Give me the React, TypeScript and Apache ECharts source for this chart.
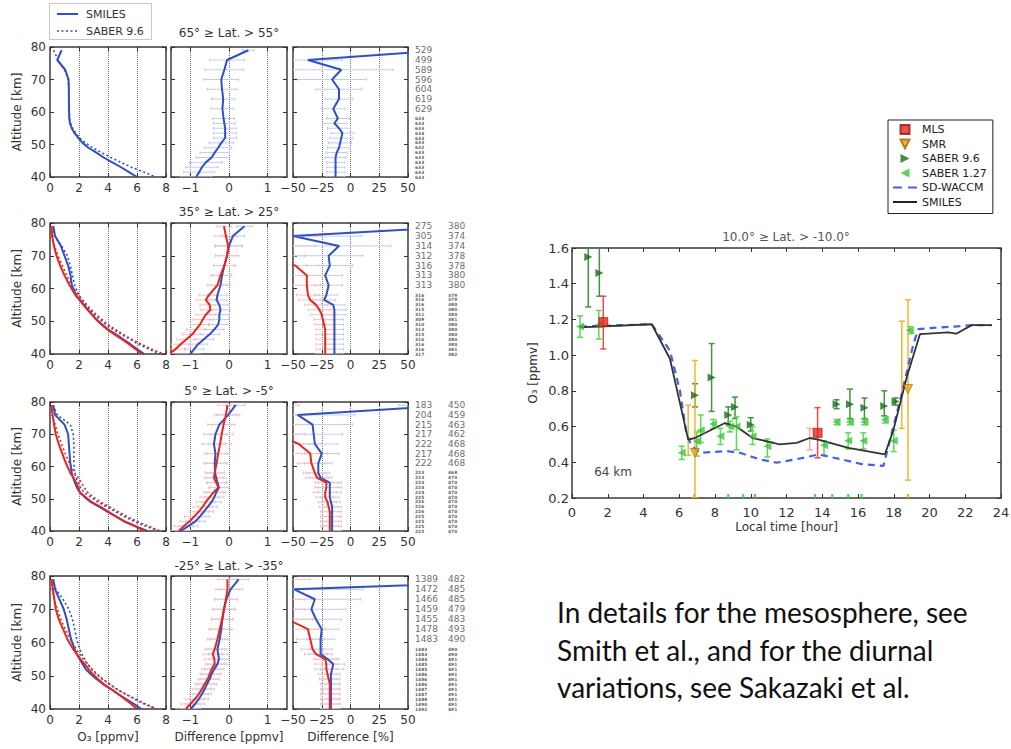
import React, { useEffect, useRef } from 'react';
import * as echarts from 'echarts';

// ---------------- data ----------------
const ALT = [79, 76, 73, 70, 67, 64, 61, 58, 56.5, 55, 53.5, 52, 50.5, 49, 47.5, 46, 44.5, 43, 41.5, 40];
const LAT_TITLES = ['65° ≥ Lat. > 55°', '35° ≥ Lat. > 25°', '5° ≥ Lat. > -5°', '-25° ≥ Lat. > -35°'];
const X_NAMES = ['O₃ [ppmv]', 'Difference [ppmv]', 'Difference [%]'];

// row 1 (65 >= lat > 55)
const r1O3SmilesB = [0.8, 0.5, 1.05, 1.28, 1.3, 1.3, 1.31, 1.33, 1.38, 1.5, 1.7, 1.95, 2.25, 2.65, 3.2, 3.7, 4.3, 4.9, 5.45, 6.0];
const r1O3SaberB = [0.25, 0.55, 1.0, 1.25, 1.3, 1.3, 1.32, 1.35, 1.42, 1.55, 1.78, 2.05, 2.45, 2.95, 3.55, 4.2, 4.9, 5.6, 6.5, 7.3];
const r1DiffB = [0.5, -0.05, -0.12, -0.2, -0.18, -0.15, -0.17, -0.14, -0.12, -0.1, -0.1, -0.1, -0.2, -0.28, -0.37, -0.45, -0.6, -0.7, -0.77, -0.85];
const r1PctB = [82, -37, -8, -16, -10, -10, -15, -11, -14, -10, -7, -8, -9, -10, -12, -13, -13, -13, -13, -13];
const r1ErrPpm = [0.15, 0.45, 0.5, 0.45, 0.38, 0.3, 0.3, 0.28, 0.28, 0.3, 0.3, 0.3, 0.32, 0.35, 0.38, 0.4, 0.42, 0.42, 0.4, 0.4];
const r1ErrPct = [10, 30, 45, 30, 20, 12, 10, 10, 10, 10, 10, 10, 10, 10, 9, 9, 8, 8, 8, 8];
const r1CountsA = [529, 499, 589, 596, 604, 619, 629, 633, 633, 633, 634, 633, 633, 632, 633, 633, 633, 633, 633, 633];

// row 2 (35 >= lat > 25)
const r2O3SmilesB = [0.23, 0.35, 0.75, 1.0, 1.25, 1.42, 1.5, 1.8, 2.05, 2.35, 2.6, 2.9, 3.2, 3.6, 4.0, 4.55, 5.05, 5.55, 6.0, 6.5];
const r2O3SaberB = [0.2, 0.3, 0.8, 1.2, 1.4, 1.55, 1.7, 2.0, 2.2, 2.45, 2.75, 3.05, 3.45, 3.85, 4.35, 4.9, 5.5, 6.1, 6.8, 7.6];
const r2O3SmilesR = [0.1, 0.15, 0.27, 0.45, 0.7, 1.0, 1.35, 1.75, 2.05, 2.3, 2.6, 2.9, 3.2, 3.55, 3.95, 4.45, 4.95, 5.45, 5.9, 6.3];
const r2O3SaberR = [0.1, 0.12, 0.3, 0.55, 0.85, 1.15, 1.5, 1.95, 2.25, 2.55, 2.85, 3.2, 3.6, 4.0, 4.5, 5.05, 5.65, 6.3, 7.0, 7.85];
const r2DiffB = [0.4, 0.1, 0.0, -0.05, -0.12, -0.18, -0.22, -0.3, -0.32, -0.25, -0.22, -0.25, -0.25, -0.28, -0.38, -0.5, -0.65, -0.8, -0.9, -1.0];
const r2DiffR = [-0.13, -0.08, -0.02, -0.05, -0.12, -0.22, -0.3, -0.52, -0.6, -0.5, -0.48, -0.6, -0.68, -0.75, -0.85, -0.95, -1.1, -1.25, -1.38, -1.55];
const r2PctB = [100, -50, -10, -19, -18, -22, -19, -21, -23, -15, -14, -14, -14, -14, -14, -14, -14, -14, -14, -14];
const r2PctR = [-90, -85, -75, -70, -48, -38, -38, -37, -35, -30, -27, -25, -24, -23, -22, -22, -22, -22, -22, -22];
const r2ErrPpm = [0.2, 0.3, 0.35, 0.3, 0.28, 0.25, 0.25, 0.25, 0.25, 0.25, 0.25, 0.25, 0.25, 0.25, 0.25, 0.25, 0.25, 0.25, 0.25, 0.25];
const r2ErrPct = [40, 60, 45, 30, 20, 15, 12, 10, 10, 10, 10, 10, 8, 8, 8, 8, 8, 8, 8, 8];
const r2CountsA = [275, 305, 314, 312, 316, 313, 313, 316, 316, 316, 315, 311, 309, 310, 313, 315, 316, 316, 316, 317];
const r2CountsB = [380, 374, 374, 378, 378, 380, 380, 379, 379, 380, 380, 380, 381, 380, 380, 380, 380, 380, 381, 382];

// row 3 (5 >= lat > -5)
const r3O3SmilesB = [0.23, 0.35, 1.0, 1.25, 1.3, 1.35, 1.4, 1.5, 1.6, 1.72, 1.85, 2.05, 2.4, 2.8, 3.4, 3.95, 4.55, 5.15, 5.9, 6.7];
const r3O3SaberB = [0.2, 0.5, 1.4, 1.6, 1.65, 1.65, 1.65, 1.7, 1.8, 1.95, 2.1, 2.35, 2.8, 3.3, 3.9, 4.5, 5.1, 5.8, 6.6, 7.5];
const r3O3SmilesR = [0.1, 0.18, 0.28, 0.4, 0.6, 0.85, 1.1, 1.4, 1.62, 1.8, 1.95, 2.05, 2.45, 2.85, 3.5, 4.0, 4.55, 5.1, 5.85, 6.57];
const r3O3SaberR = [0.1, 0.15, 0.35, 0.55, 0.8, 1.05, 1.35, 1.7, 1.95, 2.15, 2.35, 2.6, 3.0, 3.5, 4.1, 4.7, 5.3, 6.0, 6.8, 7.6];
const r3DiffB = [0.17, -0.02, -0.25, -0.35, -0.39, -0.35, -0.37, -0.36, -0.33, -0.3, -0.26, -0.33, -0.38, -0.45, -0.55, -0.65, -0.75, -0.87, -1.05, -1.25];
const r3DiffR = [-0.04, -0.08, -0.14, -0.19, -0.23, -0.28, -0.32, -0.37, -0.39, -0.33, -0.27, -0.4, -0.5, -0.6, -0.68, -0.78, -0.9, -1.02, -1.17, -1.3];
const r3PctB = [92, -46, -33, -32, -31, -25, -28, -28, -26, -18, -18, -18, -18, -17, -16, -16, -16, -16, -16, -16];
const r3PctR = [-95, -90, -80, -65, -45, -35, -34, -31, -29, -21, -21, -22, -22, -20, -19, -18, -18, -18, -18, -18];
const r3ErrPpm = [0.25, 0.3, 0.3, 0.3, 0.3, 0.28, 0.28, 0.25, 0.25, 0.25, 0.25, 0.25, 0.25, 0.25, 0.25, 0.25, 0.25, 0.25, 0.25, 0.25];
const r3ErrPct = [50, 50, 35, 25, 20, 15, 12, 10, 10, 10, 10, 10, 8, 8, 8, 8, 8, 8, 8, 8];
const r3CountsA = [183, 204, 215, 217, 222, 217, 222, 223, 223, 223, 224, 224, 225, 226, 226, 226, 225, 225, 225, 225];
const r3CountsB = [450, 459, 463, 462, 468, 468, 468, 468, 470, 470, 470, 470, 470, 470, 470, 470, 470, 470, 470, 470];

// row 4 (-25 >= lat > -35)
const r4O3SmilesB = [0.23, 0.35, 0.65, 0.95, 1.15, 1.3, 1.45, 1.7, 1.85, 2.05, 2.25, 2.45, 2.8, 3.2, 3.65, 4.2, 4.7, 5.25, 5.8, 6.3];
const r4O3SaberB = [0.2, 0.4, 0.9, 1.3, 1.55, 1.7, 1.85, 2.05, 2.2, 2.4, 2.6, 2.85, 3.2, 3.6, 4.1, 4.6, 5.2, 5.9, 6.6, 7.4];
const r4O3SmilesR = [0.1, 0.2, 0.3, 0.4, 0.6, 0.9, 1.2, 1.6, 1.85, 2.1, 2.4, 2.65, 2.95, 3.3, 3.7, 4.2, 4.7, 5.15, 5.6, 6.0];
const r4O3SaberR = [0.1, 0.15, 0.3, 0.5, 0.75, 1.05, 1.4, 1.8, 2.05, 2.3, 2.6, 2.9, 3.25, 3.65, 4.1, 4.6, 5.2, 5.8, 6.5, 7.3];
const r4DiffB = [0.25, 0.04, -0.07, -0.13, -0.17, -0.2, -0.24, -0.3, -0.28, -0.26, -0.3, -0.38, -0.45, -0.5, -0.57, -0.63, -0.7, -0.78, -0.88, -0.99];
const r4DiffR = [-0.04, -0.04, -0.08, -0.13, -0.18, -0.24, -0.3, -0.37, -0.42, -0.38, -0.37, -0.45, -0.5, -0.55, -0.63, -0.7, -0.78, -0.88, -1.0, -1.12];
const r4PctB = [200, -49, -31, -34, -30, -25, -26, -26, -26, -20, -15, -16, -17, -17, -17, -17, -17, -17, -17, -17];
const r4PctR = [-95, -90, -80, -70, -55, -37, -35, -33, -30, -22, -21, -21, -20, -19, -18, -18, -18, -18, -18, -18];
const r4ErrPpm = [0.25, 0.3, 0.3, 0.3, 0.28, 0.28, 0.26, 0.25, 0.25, 0.25, 0.25, 0.25, 0.25, 0.25, 0.25, 0.25, 0.25, 0.25, 0.25, 0.25];
const r4ErrPct = [60, 60, 40, 30, 22, 15, 12, 10, 10, 10, 10, 10, 8, 8, 8, 8, 8, 8, 8, 8];
const r4CountsA = [1389, 1472, 1466, 1459, 1455, 1478, 1483, 1483, 1483, 1484, 1485, 1485, 1486, 1486, 1486, 1487, 1487, 1488, 1490, 1492];
const r4CountsB = [482, 485, 485, 479, 483, 493, 490, 490, 490, 491, 491, 491, 491, 491, 491, 491, 491, 491, 491, 491];

// diurnal panel (64 km, 10 >= lat > -10)
const DIURNAL_TITLE = '10.0° ≥ Lat. > -10.0°';
const smilesHour = [0.45, 4.46, 5.48, 6.5, 6.88, 8.56, 9.2, 10.1, 11.3, 11.6, 12.57, 13.3, 13.78, 15.46, 17.5, 17.98, 18.73, 19.47, 21.05, 21.5, 22.36, 23.48];
const smilesVal = [1.155, 1.173, 0.98, 0.527, 0.536, 0.62, 0.6, 0.536, 0.508, 0.5, 0.509, 0.536, 0.527, 0.481, 0.444, 0.58, 0.878, 1.118, 1.127, 1.12, 1.168, 1.168];
const waccmHour = [0.45, 4.46, 5.48, 6.04, 6.4, 6.7, 7.16, 8.65, 9.4, 10.5, 11.45, 12.5, 13.4, 13.78, 15.09, 16.2, 17.42, 17.5, 18.45, 19.1, 19.38, 20.5, 21.4, 22.36, 23.48];
const waccmVal = [1.16, 1.173, 1.025, 0.8, 0.56, 0.49, 0.453, 0.463, 0.453, 0.416, 0.398, 0.416, 0.435, 0.444, 0.416, 0.39, 0.38, 0.41, 0.786, 1.063, 1.146, 1.155, 1.16, 1.168, 1.168];
const mlsHour = [1.75, 13.74];
const mlsVal = [1.185, 0.565];
const mlsLo = [1.035, 0.425];
const mlsHi = [1.33, 0.706];
const mlsFaintHour = [13.3];
const mlsFaintLo = [0.47];
const mlsFaintHi = [0.59];
const smrHour = [6.88, 18.8];
const smrVal = [0.453, 0.81];
const smrLo = [0.2, 0.3];
const smrHi = [0.97, 1.31];
const smrBarHour = [6.5, 18.45];
const smrBarLo = [0.44, 0.59];
const smrBarHi = [0.72, 1.19];
const saber96Hour = [0.91, 1.53, 6.88, 7.81, 8.74, 9.12, 10.0, 14.8, 15.55, 16.36, 17.47, 18.1];
const saber96Val = [1.55, 1.46, 0.775, 0.875, 0.665, 0.71, 0.61, 0.725, 0.725, 0.705, 0.715, 0.74];
const saber96Lo = [1.27, 1.33, 0.71, 0.685, 0.61, 0.645, 0.575, 0.7, 0.645, 0.645, 0.66, 0.72];
const saber96Hi = [1.85, 1.65, 0.84, 1.065, 0.71, 0.765, 0.65, 0.75, 0.81, 0.76, 0.8, 0.76];
const saber127Hour = [0.45, 1.5, 6.14, 6.98, 7.2, 7.9, 8.3, 8.84, 9.2, 10.1, 10.93, 14.1, 14.8, 15.45, 15.55, 16.3, 16.36, 17.5, 18.0, 18.9];
const saber127Val = [1.16, 1.17, 0.453, 0.518, 0.58, 0.615, 0.546, 0.6, 0.6, 0.546, 0.49, 0.495, 0.625, 0.52, 0.625, 0.52, 0.625, 0.638, 0.52, 1.14];
const saber127Lo = [1.1, 1.09, 0.416, 0.435, 0.51, 0.59, 0.5, 0.57, 0.47, 0.5, 0.43, 0.44, 0.61, 0.475, 0.61, 0.475, 0.61, 0.62, 0.46, 1.12];
const saber127Hi = [1.22, 1.25, 0.49, 0.57, 0.665, 0.64, 0.59, 0.63, 0.656, 0.6, 0.53, 0.52, 0.64, 0.565, 0.64, 0.565, 0.64, 0.655, 0.58, 1.16];
const rugGreenHour = [8.74, 9.58, 10.24, 13.6, 14.56, 15.45, 16.2];
const rugOrangeHour = [6.84, 18.8];
const ALT_LABEL = '64 km';

const PARAGRAPH = [
  'In details for the mesosphere, see',
  'Smith et al., and for the diurnal',
  'variations, see Sakazaki et al.',
];

// ---------------- styling / layout ----------------
const FONT = 'DejaVu Sans';
const BLUE = '#2f4fc4';
const RED = '#e8261e';
const BLUE_FAINT = '#c2cbf0';
const RED_FAINT = '#f6c2c2';
const INK = '#333';

const ROW_LAYOUT = [
  { top: 47, height: 130, titleY: 33 },
  { top: 223, height: 131, titleY: 212 },
  { top: 402, height: 129, titleY: 391 },
  { top: 576, height: 133, titleY: 566 },
];
const COL_LAYOUT = [
  { left: 50, width: 116 },
  { left: 171, width: 116 },
  { left: 293, width: 115 },
];
const COUNT_BIG_FROM_ALT = 61; // labels at/above this altitude are legible; below they crowd together

type Line = { v: number[]; c: string; dotted?: boolean };
const PROFILE_ROWS: { o3: Line[]; diff: Line[]; pct: Line[]; errPpm: number[]; errPct: number[]; counts: number[][] }[] = [
  {
    o3: [{ v: r1O3SmilesB, c: BLUE }, { v: r1O3SaberB, c: BLUE, dotted: true }],
    diff: [{ v: r1DiffB, c: BLUE }],
    pct: [{ v: r1PctB, c: BLUE }],
    errPpm: r1ErrPpm, errPct: r1ErrPct, counts: [r1CountsA],
  },
  {
    o3: [{ v: r2O3SaberB, c: BLUE, dotted: true }, { v: r2O3SaberR, c: RED, dotted: true }, { v: r2O3SmilesB, c: BLUE }, { v: r2O3SmilesR, c: RED }],
    diff: [{ v: r2DiffB, c: BLUE }, { v: r2DiffR, c: RED }],
    pct: [{ v: r2PctB, c: BLUE }, { v: r2PctR, c: RED }],
    errPpm: r2ErrPpm, errPct: r2ErrPct, counts: [r2CountsA, r2CountsB],
  },
  {
    o3: [{ v: r3O3SaberB, c: BLUE, dotted: true }, { v: r3O3SaberR, c: RED, dotted: true }, { v: r3O3SmilesB, c: BLUE }, { v: r3O3SmilesR, c: RED }],
    diff: [{ v: r3DiffB, c: BLUE }, { v: r3DiffR, c: RED }],
    pct: [{ v: r3PctB, c: BLUE }, { v: r3PctR, c: RED }],
    errPpm: r3ErrPpm, errPct: r3ErrPct, counts: [r3CountsA, r3CountsB],
  },
  {
    o3: [{ v: r4O3SaberB, c: BLUE, dotted: true }, { v: r4O3SaberR, c: RED, dotted: true }, { v: r4O3SmilesB, c: BLUE }, { v: r4O3SmilesR, c: RED }],
    diff: [{ v: r4DiffB, c: BLUE }, { v: r4DiffR, c: RED }],
    pct: [{ v: r4PctB, c: BLUE }, { v: r4PctR, c: RED }],
    errPpm: r4ErrPpm, errPct: r4ErrPct, counts: [r4CountsA, r4CountsB],
  },
];

const minus = (v: number) => String(v).replace('-', '\u2212');

const hbar = (color: string) => (_p: any, api: any) => {
  const y = api.value(2);
  const a = api.coord([api.value(0), y]);
  const b = api.coord([api.value(1), y]);
  return {
    type: 'group',
    children: [
      { type: 'line', shape: { x1: a[0], y1: a[1], x2: b[0], y2: b[1] }, style: { stroke: color, lineWidth: 1 } },
      { type: 'line', shape: { x1: a[0], y1: a[1] - 1.5, x2: a[0], y2: a[1] + 1.5 }, style: { stroke: color, lineWidth: 1 } },
      { type: 'line', shape: { x1: b[0], y1: b[1] - 1.5, x2: b[0], y2: b[1] + 1.5 }, style: { stroke: color, lineWidth: 1 } },
    ],
  };
};

const vbar = (color: string, width = 1.5, cap = 3) => (_p: any, api: any) => {
  const x = api.value(0);
  const t = api.coord([x, api.value(2)]);
  const b = api.coord([x, api.value(1)]);
  const st = { stroke: color, lineWidth: width };
  return {
    type: 'group',
    children: [
      { type: 'line', shape: { x1: t[0], y1: t[1], x2: b[0], y2: b[1] }, style: st },
      { type: 'line', shape: { x1: t[0] - cap, y1: t[1], x2: t[0] + cap, y2: t[1] }, style: st },
      { type: 'line', shape: { x1: b[0] - cap, y1: b[1], x2: b[0] + cap, y2: b[1] }, style: st },
    ],
  };
};

const rug = (color: string) => (_p: any, api: any) => {
  const p = api.coord([api.value(0), api.value(1)]);
  return { type: 'line', shape: { x1: p[0], y1: p[1], x2: p[0], y2: p[1] - 4 }, style: { stroke: color, lineWidth: 2 } };
};

function buildOption() {
  const grid: any[] = [];
  const xAxis: any[] = [];
  const yAxis: any[] = [];
  const mirrorX: any[] = [];
  const mirrorY: any[] = [];
  const series: any[] = [];
  const graphic: any[] = [];

  const tick = { show: true, inside: true, length: 4, lineStyle: { color: INK, width: 1 } };
  const labelStyle = { fontFamily: FONT, fontSize: 12, color: INK };

  const addMirror = (gi: number, xs: any, ys: any) => {
    mirrorX.push({
      gridIndex: gi, type: 'value', position: 'top', ...xs,
      axisLine: { show: false, onZero: false }, axisTick: tick, axisLabel: { show: false }, splitLine: { show: false },
    });
    mirrorY.push({
      gridIndex: gi, type: 'value', position: 'right', ...ys,
      axisLine: { show: false, onZero: false }, axisTick: tick, axisLabel: { show: false }, splitLine: { show: false },
    });
  };

  const X_SCALES = [
    { min: 0, max: 8, interval: 2 },
    { min: -1.5, max: 1.5, splitNumber: 3 },
    { min: -50, max: 50, interval: 25 },
  ];
  const Y_SCALE = { min: 40, max: 80, interval: 10 };

  PROFILE_ROWS.forEach((row, r) => {
    const rl = ROW_LAYOUT[r];
    const panels = [
      { lines: row.o3, err: null as number[] | null },
      { lines: row.diff, err: row.errPpm },
      { lines: row.pct, err: row.errPct },
    ];
    panels.forEach((p, c) => {
      const cl = COL_LAYOUT[c];
      const gi = grid.length;
      grid.push({
        left: cl.left, top: rl.top, width: cl.width, height: rl.height,
        show: true, borderColor: '#3a3a3a', borderWidth: 1.5, backgroundColor: 'transparent',
        containLabel: false, outerBoundsMode: 'none',
      });
      xAxis.push({
        gridIndex: gi, type: 'value', position: 'bottom', ...X_SCALES[c],
        axisLine: { show: false, onZero: false },
        axisTick: tick,
        axisLabel: {
          show: true, margin: 5, ...labelStyle, formatter: minus,
          showMinLabel: c === 1 ? false : undefined, showMaxLabel: c === 1 ? false : undefined,
        },
        splitLine: { show: true, lineStyle: { color: '#777', type: 'dotted', width: 1 } },
        name: r === 3 ? X_NAMES[c] : '',
        nameLocation: 'middle', nameGap: 22,
        nameTextStyle: { ...labelStyle },
      });
      yAxis.push({
        gridIndex: gi, type: 'value', position: 'left', ...Y_SCALE,
        axisLine: { show: false, onZero: false },
        axisTick: tick,
        axisLabel: { show: c === 0, margin: 4, ...labelStyle },
        splitLine: { show: false },
        name: c === 0 ? 'Altitude [km]' : '',
        nameLocation: 'middle', nameGap: 27,
        nameTextStyle: { ...labelStyle },
      });
      addMirror(gi, X_SCALES[c], Y_SCALE);

      if (p.err) {
        p.lines.forEach((ln, k) => {
          series.push({
            type: 'custom', name: `err-${r}-${c}-${k}`, xAxisIndex: gi, yAxisIndex: gi,
            clip: true, z: 1,
            encode: { x: [0, 1], y: 2 },
            renderItem: hbar(ln.c === RED ? RED_FAINT : BLUE_FAINT),
            data: ALT.map((a, i) => [ln.v[i] - p.err![i], ln.v[i] + p.err![i], a]),
          });
        });
      }
      p.lines.forEach((ln, k) => {
        series.push({
          type: 'line', name: `prof-${r}-${c}-${k}`, xAxisIndex: gi, yAxisIndex: gi,
          symbol: 'none', clip: true, z: 3,
          lineStyle: { color: ln.c, width: ln.dotted ? 1.6 : 2, type: ln.dotted ? [2, 2.5] : 'solid' },
          data: ALT.map((a, i) => [ln.v[i], a]),
        });
      });
    });

    graphic.push({
      type: 'text', x: 229, y: rl.titleY,
      style: { text: LAT_TITLES[r], font: `12px "${FONT}"`, fill: INK, align: 'center', verticalAlign: 'middle' },
    });
  });

  // ---- diurnal panel ----
  const dg = grid.length;
  grid.push({
    left: 572, top: 248, width: 429, height: 250, show: true, borderColor: '#3a3a3a', borderWidth: 1.5,
    backgroundColor: 'transparent', containLabel: false, outerBoundsMode: 'none',
  });
  const DX = { min: 0, max: 24, interval: 2 };
  const DY = { min: 0.2, max: 1.6, interval: 0.2 };
  xAxis.push({
    gridIndex: dg, type: 'value', position: 'bottom', ...DX,
    axisLine: { show: false, onZero: false }, axisTick: tick,
    axisLabel: { margin: 8, fontFamily: FONT, fontSize: 13, color: INK },
    splitLine: { show: false },
    name: 'Local time [hour]', nameLocation: 'middle', nameGap: 23,
    nameTextStyle: { fontFamily: FONT, fontSize: 12, color: INK },
  });
  yAxis.push({
    gridIndex: dg, type: 'value', position: 'left', ...DY,
    axisLine: { show: false, onZero: false }, axisTick: tick,
    axisLabel: { margin: 3, fontFamily: FONT, fontSize: 13, color: INK, formatter: (v: number) => v.toFixed(1) },
    splitLine: { show: false },
    name: 'O₃ [ppmv]', nameLocation: 'middle', nameGap: 33,
    nameTextStyle: { fontFamily: FONT, fontSize: 12, color: INK },
  });
  addMirror(dg, DX, DY);

  const bars = (name: string, h: number[], lo: number[], hi: number[], color: string, width = 1.5) => ({
    type: 'custom', name, xAxisIndex: dg, yAxisIndex: dg, clip: true, z: 2,
    encode: { x: 0, y: [1, 2] },
    renderItem: vbar(color, width),
    data: h.map((x, i) => [x, lo[i], hi[i]]),
  });
  series.push(bars('mls-faint-bars', mlsFaintHour, mlsFaintLo, mlsFaintHi, '#f6a6a6'));
  series.push(bars('saber96-bars', saber96Hour, saber96Lo, saber96Hi, '#3f963f'));
  series.push(bars('saber127-bars', saber127Hour, saber127Lo, saber127Hi, '#55dd55'));
  series.push(bars('mls-bars', mlsHour, mlsLo, mlsHi, '#ee4a4a'));
  series.push({
    type: 'line', name: 'SD-WACCM', xAxisIndex: dg, yAxisIndex: dg, symbol: 'none', clip: true, z: 3,
    lineStyle: { color: '#4d5ee6', width: 2.2, type: [7, 5] }, itemStyle: { color: '#4d5ee6' },
    data: waccmHour.map((x, i) => [x, waccmVal[i]]),
  });
  series.push({
    type: 'line', name: 'SMILES', xAxisIndex: dg, yAxisIndex: dg, symbol: 'none', clip: true, z: 4,
    lineStyle: { color: '#333', width: 1.8 }, itemStyle: { color: '#222' },
    data: smilesHour.map((x, i) => [x, smilesVal[i]]),
  });
  series.push(bars('smr-bars-2', smrBarHour, smrBarLo, smrBarHi, '#f5b52a'));
  series.push(bars('smr-bars', smrHour, smrLo, smrHi, '#f5b52a'));
  series.push({
    type: 'custom', name: 'rug-green', xAxisIndex: dg, yAxisIndex: dg, z: 5, encode: { x: 0, y: 1 },
    renderItem: rug('#2ee62e'), data: rugGreenHour.map((x) => [x, DY.min]),
  });
  series.push({
    type: 'custom', name: 'rug-orange', xAxisIndex: dg, yAxisIndex: dg, z: 5, encode: { x: 0, y: 1 },
    renderItem: rug('#f5a800'), data: rugOrangeHour.map((x) => [x, DY.min]),
  });
  const SQ = 'path://M0,0H10V10H0Z';
  const TDOWN = 'path://M0,0L10,0L5,10Z';
  const TRIGHT = 'path://M0,0L10,5L0,10Z';
  const TLEFT = 'path://M10,0L0,5L10,10Z';
  const LINE_ICON = 'path://M0,0H24V2H0Z';
  const DASH_ICON = 'path://M0,0H9V2H0Z M15,0H24V2H15Z';
  series.push({
    type: 'scatter', name: 'SABER 1.27', xAxisIndex: dg, yAxisIndex: dg, z: 6, symbol: TLEFT, symbolSize: 8,
    symbolKeepAspect: true, itemStyle: { color: '#3cc43c' },
    data: saber127Hour.map((x, i) => [x, saber127Val[i]]),
  });
  series.push({
    type: 'scatter', name: 'SABER 9.6', xAxisIndex: dg, yAxisIndex: dg, z: 6, symbol: TRIGHT, symbolSize: 8,
    symbolKeepAspect: true, itemStyle: { color: '#1d6b1d' },
    data: saber96Hour.map((x, i) => [x, saber96Val[i]]),
  });
  series.push({
    type: 'scatter', name: 'SMR', xAxisIndex: dg, yAxisIndex: dg, z: 7, symbol: TDOWN, symbolSize: 9,
    symbolKeepAspect: true, itemStyle: { color: '#eea21c', borderColor: '#a06a00', borderWidth: 0.8 },
    data: smrHour.map((x, i) => [x, smrVal[i]]),
  });
  series.push({
    type: 'scatter', name: 'MLS', xAxisIndex: dg, yAxisIndex: dg, z: 7, symbol: SQ, symbolSize: 9,
    symbolKeepAspect: true, itemStyle: { color: '#e8261e', borderColor: '#9a1010', borderWidth: 0.8 },
    data: mlsHour.map((x, i) => [x, mlsVal[i]]),
  });

  graphic.push({
    type: 'text', x: 786, y: 237,
    style: { text: DIURNAL_TITLE, font: `12px "${FONT}"`, fill: '#555', align: 'center', verticalAlign: 'middle' },
  });
  graphic.push({
    type: 'text', x: 613, y: 472,
    style: { text: ALT_LABEL, font: `12px "${FONT}"`, fill: '#444', align: 'center', verticalAlign: 'middle' },
  });

  // ---- count columns ----
  PROFILE_ROWS.forEach((row, r) => {
    const rl = ROW_LAYOUT[r];
    const gi = grid.length;
    grid.push({ left: 415, top: rl.top, width: 33, height: rl.height, show: false, containLabel: false, outerBoundsMode: 'none' });
    xAxis.push({ gridIndex: gi, type: 'value', min: 0, max: 1, show: false });
    yAxis.push({ gridIndex: gi, type: 'value', min: 40, max: 80, show: false });
    const data: any[] = [];
    row.counts.forEach((col, k) =>
      col.forEach((n, i) => {
        const big = ALT[i] >= COUNT_BIG_FROM_ALT;
        data.push({
          value: [k, ALT[i], n],
          label: big ? { fontSize: 9 } : { fontSize: 4.4, fontWeight: 'bold', color: '#333' },
        });
      }),
    );
    series.push({
      type: 'scatter', name: `counts-${r}`, xAxisIndex: gi, yAxisIndex: gi, symbol: 'circle', symbolSize: 0.1,
      itemStyle: { color: 'transparent' }, silent: true, clip: false,
      label: {
        show: true, position: 'right', distance: 0, formatter: (p: any) => String(p.value[2]),
        fontFamily: FONT, fontSize: 9, color: '#444', align: 'left', verticalAlign: 'middle', lineHeight: 4.4,
      },
      labelLayout: { hideOverlap: false },
      data,
    });
  });

  // ---- left legend (profiles) ----
  graphic.push({
    type: 'group', children: [
      { type: 'rect', shape: { x: 49.5, y: 3.5, width: 102, height: 36 }, style: { fill: '#fff', stroke: '#c8c8c8', lineWidth: 1 } },
      { type: 'line', shape: { x1: 57, y1: 14, x2: 78, y2: 14 }, style: { stroke: BLUE, lineWidth: 2 } },
      { type: 'text', x: 86, y: 14, style: { text: 'SMILES', font: `11px "${FONT}"`, fill: INK, verticalAlign: 'middle' } },
      { type: 'line', shape: { x1: 57, y1: 31, x2: 78, y2: 31 }, style: { stroke: BLUE, lineWidth: 1.6, lineDash: [2, 2.5] } },
      { type: 'text', x: 86, y: 31, style: { text: 'SABER 9.6', font: `11px "${FONT}"`, fill: INK, verticalAlign: 'middle' } },
    ],
  });

  // ---- paragraph ----
  PARAGRAPH.forEach((t, i) => {
    graphic.push({
      type: 'text', x: 557, y: 612 + i * 37.5,
      style: { text: t, font: '28px Lato', fill: '#111', verticalAlign: 'middle' },
    });
  });

  return {
    animation: false,
    backgroundColor: '#fff',
    textStyle: { fontFamily: FONT },
    grid,
    xAxis: [...xAxis, ...mirrorX],
    yAxis: [...yAxis, ...mirrorY],
    legend: {
      show: true, orient: 'vertical', left: 888, top: 120,
      borderColor: '#222', borderWidth: 1, backgroundColor: '#fff',
      padding: [4, 6, 6, 5], itemGap: 3.5, itemWidth: 24, itemHeight: 9,
      symbolKeepAspect: true,
      textStyle: { fontFamily: FONT, fontSize: 11, color: '#222' },
      selectedMode: false,
      data: [
        { name: 'MLS', icon: SQ },
        { name: 'SMR', icon: TDOWN },
        { name: 'SABER 9.6', icon: TRIGHT },
        { name: 'SABER 1.27', icon: TLEFT },
        { name: 'SD-WACCM', icon: DASH_ICON },
        { name: 'SMILES', icon: LINE_ICON },
      ],
    },
    graphic,
    series,
  };
}

export default function App() {
  const ref = useRef<HTMLDivElement>(null);
  useEffect(() => {
    if (!ref.current) return;
    const chart = echarts.init(ref.current, undefined, { renderer: 'svg' });
    chart.setOption(buildOption() as any);
    return () => chart.dispose();
  }, []);
  return (
    <div
      ref={ref}
      style={{ position: 'fixed', left: 0, top: 0, width: 1011, height: 749, background: '#fff' }}
    />
  );
}
